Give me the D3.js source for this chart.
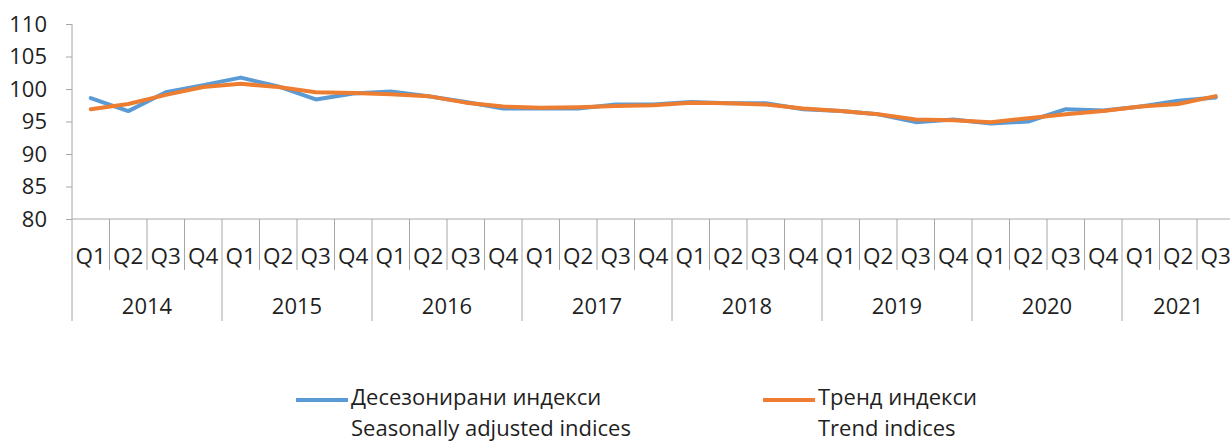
<!DOCTYPE html>
<html lang="bg">
<head>
<meta charset="UTF-8">
<script src="https://d3js.org/d3.v7.min.js"></script>
<style>
  body { margin: 0; background: #fff; }
  text { font-family: "Open Sans", sans-serif; fill: #1f1f1f; }
</style>
</head>
<body>
<div id="chart"></div>
<script>
// data
const years = ["2014", "2015", "2016", "2017", "2018", "2019", "2020", "2021"];
const quarters = ["Q1", "Q2", "Q3", "Q4"];
const seasonal = [98.6, 96.6, 99.5, 100.6, 101.75, 100.4, 98.4, 99.3,
                  99.6, 98.9, 98.0, 97.0, 97.0, 97.0, 97.6, 97.6,
                  98.0, 97.8, 97.8, 96.9, 96.6, 96.1, 94.9, 95.3,
                  94.7, 95.0, 96.9, 96.7, 97.3, 98.2, 98.7];
const trend = [96.9, 97.7, 99.1, 100.3, 100.8, 100.3, 99.5, 99.4,
               99.2, 98.9, 97.9, 97.3, 97.1, 97.2, 97.4, 97.5,
               97.9, 97.8, 97.6, 97.0, 96.6, 96.1, 95.3, 95.2,
               94.9, 95.5, 96.1, 96.6, 97.3, 97.7, 98.9];
const yTicks = [80, 85, 90, 95, 100, 105, 110];
const legendLabels = [
  ["Десезонирани индекси", "Seasonally adjusted indices"],
  ["Тренд индекси", "Trend indices"]
];
const colors = ["#5B9BD5", "#ED7D31"];

// categories: year/quarter pairs
const cats = seasonal.map((d, i) => ({ id: i, year: years[Math.floor(i / 4)], q: quarters[i % 4] }));

const W = 1230, H = 443;
const plotLeft = 72, plotTop = 24, plotBottom = 219, step = 37.5;

const svg = d3.select("#chart").append("svg")
  .attr("width", W).attr("height", H);

const x = d3.scaleBand()
  .domain(cats.map(d => d.id))
  .range([plotLeft, plotLeft + step * cats.length])
  .padding(0);

const y = d3.scaleLinear()
  .domain([80, 110])
  .range([plotBottom, plotTop]);

const axisColor = "#a6a6a6";

// y axis
const yAxis = svg.append("g")
  .attr("transform", "translate(" + plotLeft + ",0)")
  .call(d3.axisLeft(y).tickValues(yTicks).tickSize(6).tickPadding(19));
yAxis.select(".domain").attr("stroke", axisColor).attr("d", "M0," + plotTop + "V" + plotBottom);
yAxis.selectAll(".tick line").attr("stroke", axisColor);
yAxis.selectAll(".tick text")
  .style("font-size", "22px")
  .attr("fill", "#1f1f1f");

// x axis line
svg.append("line")
  .attr("x1", plotLeft).attr("x2", W)
  .attr("y1", plotBottom).attr("y2", plotBottom)
  .attr("stroke", axisColor);

// quarter separators and labels
svg.selectAll(".qsep")
  .data(cats)
  .enter().append("line")
    .attr("x1", d => x(d.id)).attr("x2", d => x(d.id))
    .attr("y1", plotBottom)
    .attr("y2", d => d.q === "Q1" ? 321 : 270)
    .attr("stroke", axisColor);

svg.selectAll(".qlab")
  .data(cats)
  .enter().append("text")
    .attr("x", d => x(d.id) + x.bandwidth() / 2)
    .attr("y", 264)
    .attr("text-anchor", "middle")
    .style("font-size", "22.5px")
    .text(d => d.q);

// year labels, centred over their quarters
svg.selectAll(".ylab")
  .data(years)
  .enter().append("text")
    .attr("x", (d, i) => {
      const ids = cats.filter(c => c.year === d).map(c => c.id);
      return (x(ids[0]) + x(ids[ids.length - 1]) + x.bandwidth()) / 2;
    })
    .attr("y", 314)
    .attr("text-anchor", "middle")
    .style("font-size", "22px")
    .text(d => d);

// lines
const line = d3.line()
  .x((d, i) => x(i) + x.bandwidth() / 2)
  .y(d => y(d));

[seasonal, trend].forEach((s, k) => {
  svg.append("path")
    .datum(s)
    .attr("fill", "none")
    .attr("stroke", colors[k])
    .attr("stroke-width", 4)
    .attr("stroke-linejoin", "round")
    .attr("stroke-linecap", "round")
    .attr("d", line);
});

// legend
const legendX = [296, 763];
legendLabels.forEach((lab, k) => {
  const g = svg.append("g").attr("transform", "translate(" + legendX[k] + ",0)");
  g.append("line")
    .attr("x1", 0).attr("x2", 52)
    .attr("y1", 400).attr("y2", 400)
    .attr("stroke", colors[k]).attr("stroke-width", 4);
  g.append("text").attr("x", 55).attr("y", 405).style("font-size", "22px").text(lab[0]);
  g.append("text").attr("x", 55).attr("y", 436).style("font-size", "22px").text(lab[1]);
});
</script>
</body>
</html>
